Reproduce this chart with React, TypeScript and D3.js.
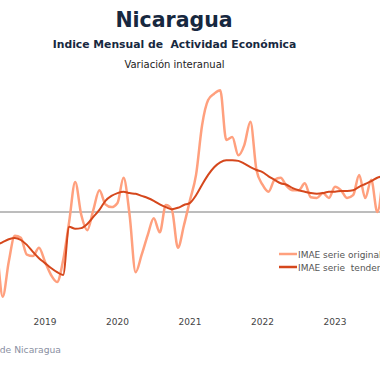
import React from "react";
import * as d3 from "d3";

// month index: 0 = Jan 2018
const startMonth = 3;
const originalSeries = [
  -2.6, -5.4, -12.1, -7.1, -3.4, -3.7, -6.1, -6.3, -5.1,
  -7.1, -9.0, -10.0, -6.9, -1.4, 4.3, -0.4, -2.6, 0.3, 3.1, 1.1, 0.7,
  1.3, 4.9, -0.4, -8.6, -6.1, -3.3, -0.9, -2.9, 1.0, 0.3, -5.1, -1.9,
  1.7, 5.3, 12.4, 16.0, 16.9, 17.4, 10.3, 10.7, 8.1, 9.6, 12.9, 6.0,
  3.9, 2.9, 4.6, 4.9, 3.7, 3.1, 3.1, 4.1, 2.1, 2.0, 2.7, 2.0,
  3.6, 3.1, 2.0, 2.4, 5.3, 2.0, 4.6, 0.0, 6.0,
];
const trendSeries = [
  -4.9, -4.7, -4.3, -3.9, -3.7, -4.0, -4.7, -5.7, -6.6,
  -7.3, -8.0, -8.6, -9.0, -2.1, -2.4, -2.3, -1.7, -0.7, 0.3, 1.6, 2.3,
  2.7, 2.9, 2.7, 2.6, 2.3, 2.0, 1.6, 1.1, 0.7, 0.4, 0.6, 1.0,
  1.3, 2.4, 3.9, 5.3, 6.4, 7.1, 7.4, 7.4, 7.3, 6.9, 6.4, 6.0,
  5.7, 5.1, 4.6, 4.1, 3.9, 3.4, 3.1, 2.9, 2.7, 2.6, 2.7, 2.9,
  2.9, 3.0, 3.0, 3.1, 3.6, 4.0, 4.4, 4.9, 5.1,
];
const yearLabels = ["2019", "2020", "2021", "2022", "2023"];
const yearMonths = [12, 24, 36, 48, 60];
const legendLabels = ["IMAE serie original", "IMAE serie  tendencia"];

const LIGHT = "#FFA07E";
const DARK = "#D5471C";

export default function App() {
  const W = 380, H = 380;
  const x = d3.scaleLinear().domain([12, 60]).range([45, 335]);
  const y = d3.scaleLinear().domain([0, 10]).range([212, 142]);

  const toPts = (arr: number[]) => arr.map((v, i) => [startMonth + i, v] as [number, number]);
  const line = d3
    .line<[number, number]>()
    .x((d) => x(d[0]))
    .y((d) => y(d[1]))
    .curve(d3.curveMonotoneX);

  const font = "'DejaVu Sans', sans-serif";

  return (
    <svg
      width={W}
      height={H}
      style={{ position: "absolute", left: 0, top: 0, background: "#fff" }}
      fontFamily={font}
    >
      <rect x={0} y={0} width={W} height={H} fill="#fff" />
      <text x={174} y={27} textAnchor="middle" fontSize={20.5} fontWeight={700} fill="#172840">
        Nicaragua
      </text>
      <text x={174.5} y={48} textAnchor="middle" fontSize={10.8} fontWeight={700} fill="#172840" xmlSpace="preserve">
        Indice Mensual de  Actividad Económica
      </text>
      <text x={174.5} y={68} textAnchor="middle" fontSize={10} fill="#222">
        Variación interanual
      </text>

      <line x1={0} x2={W} y1={y(0)} y2={y(0)} stroke="#7a7a7a" strokeWidth={1} />

      <path d={line(toPts(originalSeries)) || ""} fill="none" stroke={LIGHT} strokeWidth={2.5} strokeLinejoin="round" />
      <path d={line(toPts(trendSeries)) || ""} fill="none" stroke={DARK} strokeWidth={2} strokeLinejoin="round" />

      {yearLabels.map((lab, i) => (
        <text key={lab} x={x(yearMonths[i])} y={325} textAnchor="middle" fontSize={9} fill="#444">
          {lab}
        </text>
      ))}

      {legendLabels.map((lab, i) => (
        <g key={lab}>
          <line x1={279} x2={297} y1={254 + i * 13} y2={254 + i * 13} stroke={i === 0 ? LIGHT : DARK} strokeWidth={2.5} />
          <text x={298} y={257.5 + i * 13} fontSize={9} fill="#555" xmlSpace="preserve">
            {lab}
          </text>
        </g>
      ))}

      <text x={61} y={353} textAnchor="end" fontSize={9.2} fill="#8a90a2">
        Fuente: Banco Central de Nicaragua
      </text>
    </svg>
  );
}
